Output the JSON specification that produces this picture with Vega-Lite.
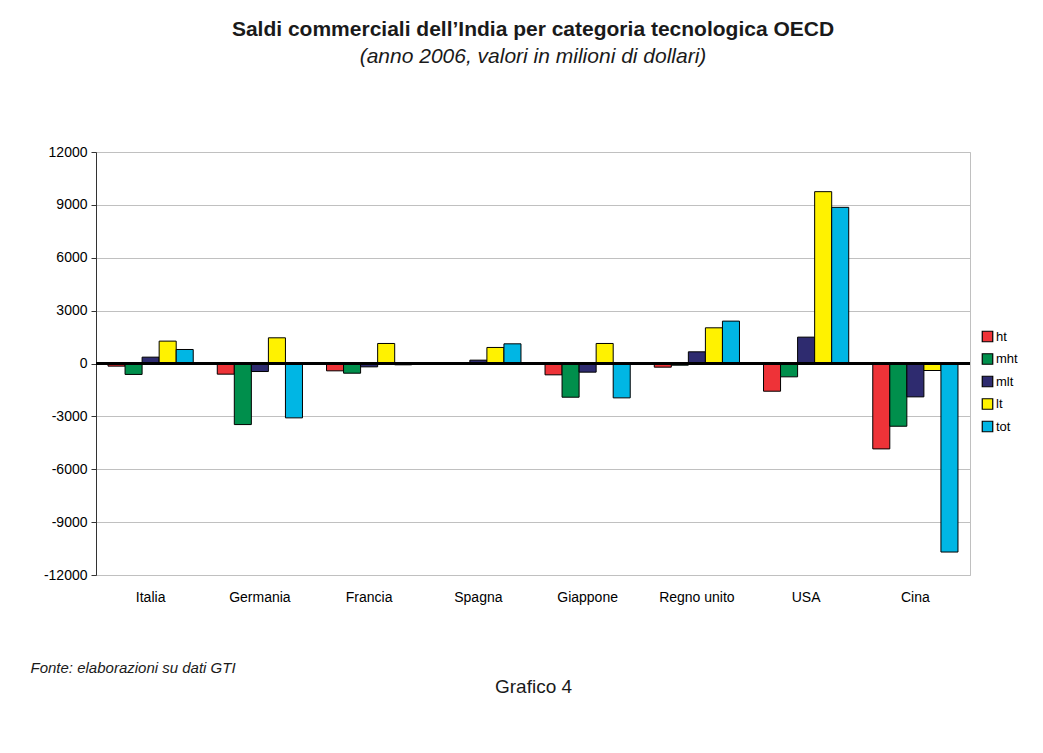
{
  "$schema": "https://vega.github.io/schema/vega-lite/v6.json",
  "width": 874,
  "height": 423,
  "autosize": {"type": "none"},
  "padding": {"left": 96, "top": 152, "right": 73, "bottom": 178},
  "background": "white",
  "title": {
    "text": "Saldi commerciali dell’India per categoria tecnologica OECD",
    "subtitle": "(anno 2006, valori in milioni di dollari)",
    "anchor": "middle",
    "font": "Liberation Sans",
    "fontSize": 21,
    "fontWeight": "bold",
    "color": "#1a1a1a",
    "subtitleFont": "Liberation Sans",
    "subtitleFontSize": 21,
    "subtitleFontStyle": "italic",
    "subtitleColor": "#1a1a1a",
    "subtitlePadding": 6,
    "offset": 78
  },
  "data": {
    "values": [
      {"country": "Italia", "cat": "ht", "value": -150},
      {"country": "Italia", "cat": "mht", "value": -620},
      {"country": "Italia", "cat": "mlt", "value": 360},
      {"country": "Italia", "cat": "lt", "value": 1270},
      {"country": "Italia", "cat": "tot", "value": 795},
      {"country": "Germania", "cat": "ht", "value": -605},
      {"country": "Germania", "cat": "mht", "value": -3465},
      {"country": "Germania", "cat": "mlt", "value": -455},
      {"country": "Germania", "cat": "lt", "value": 1458},
      {"country": "Germania", "cat": "tot", "value": -3085},
      {"country": "Francia", "cat": "ht", "value": -416},
      {"country": "Francia", "cat": "mht", "value": -550},
      {"country": "Francia", "cat": "mlt", "value": -190},
      {"country": "Francia", "cat": "lt", "value": 1136},
      {"country": "Francia", "cat": "tot", "value": -75},
      {"country": "Spagna", "cat": "ht", "value": 30},
      {"country": "Spagna", "cat": "mht", "value": 20},
      {"country": "Spagna", "cat": "mlt", "value": 190},
      {"country": "Spagna", "cat": "lt", "value": 910},
      {"country": "Spagna", "cat": "tot", "value": 1117},
      {"country": "Giappone", "cat": "ht", "value": -643},
      {"country": "Giappone", "cat": "mht", "value": -1913},
      {"country": "Giappone", "cat": "mlt", "value": -492},
      {"country": "Giappone", "cat": "lt", "value": 1136},
      {"country": "Giappone", "cat": "tot", "value": -1950},
      {"country": "Regno unito", "cat": "ht", "value": -208},
      {"country": "Regno unito", "cat": "mht", "value": -95},
      {"country": "Regno unito", "cat": "mlt", "value": 663},
      {"country": "Regno unito", "cat": "lt", "value": 2025},
      {"country": "Regno unito", "cat": "tot", "value": 2405},
      {"country": "USA", "cat": "ht", "value": -1572},
      {"country": "USA", "cat": "mht", "value": -757},
      {"country": "USA", "cat": "mlt", "value": 1496},
      {"country": "USA", "cat": "lt", "value": 9750},
      {"country": "USA", "cat": "tot", "value": 8860},
      {"country": "Cina", "cat": "ht", "value": -4845},
      {"country": "Cina", "cat": "mht", "value": -3560},
      {"country": "Cina", "cat": "mlt", "value": -1893},
      {"country": "Cina", "cat": "lt", "value": -398},
      {"country": "Cina", "cat": "tot", "value": -10697}
    ]
  },
  "layer": [
    {
      "mark": {"type": "bar", "stroke": "#000000", "strokeWidth": 1},
      "encoding": {
        "x": {
          "field": "country",
          "type": "nominal",
          "sort": ["Italia", "Germania", "Francia", "Spagna", "Giappone", "Regno unito", "USA", "Cina"],
          "scale": {"paddingInner": 0.22, "paddingOuter": 0.11},
          "axis": {
            "title": "Grafico 4",
            "titleFont": "Liberation Sans",
            "titleFontSize": 19,
            "titleFontWeight": "normal",
            "titleColor": "#1a1a1a",
            "titleY": 111,
            "titleBaseline": "middle",
            "labelAngle": 0,
            "labelFont": "Liberation Sans",
            "labelFontSize": 14,
            "labelColor": "#000000",
            "labelPadding": 15,
            "ticks": false,
            "domain": false
          }
        },
        "xOffset": {
          "field": "cat",
          "type": "nominal",
          "sort": ["ht", "mht", "mlt", "lt", "tot"],
          "scale": {"paddingInner": 0, "paddingOuter": 0}
        },
        "y": {
          "field": "value",
          "type": "quantitative",
          "scale": {"domain": [-12000, 12000], "nice": false},
          "axis": {
            "values": [-12000, -9000, -6000, -3000, 0, 3000, 6000, 9000, 12000],
            "labelExpr": "'' + datum.value",
            "labelFont": "Liberation Sans",
            "labelFontSize": 14,
            "labelColor": "#000000",
            "labelPadding": 4,
            "tickSize": 5,
            "tickColor": "#333333",
            "domainColor": "#333333",
            "grid": true,
            "gridColor": "#c0c0c0",
            "title": "Fonte: elaborazioni su dati GTI",
            "titleFont": "Liberation Sans",
            "titleFontSize": 15,
            "titleFontStyle": "italic",
            "titleFontWeight": "normal",
            "titleColor": "#1a1a1a",
            "titleAngle": 0,
            "titleAlign": "left",
            "titleBaseline": "middle",
            "titleX": -66,
            "titleY": 515
          }
        },
        "color": {
          "field": "cat",
          "type": "nominal",
          "sort": ["ht", "mht", "mlt", "lt", "tot"],
          "scale": {
            "domain": ["ht", "mht", "mlt", "lt", "tot"],
            "range": ["#ee3338", "#008f4c", "#2e2b6f", "#fff200", "#00b6e4"]
          },
          "legend": {
            "title": null,
            "orient": "none",
            "legendX": 885,
            "legendY": 178,
            "symbolType": "square",
            "symbolSize": 110,
            "symbolStrokeColor": "#000000",
            "symbolStrokeWidth": 1.2,
            "labelFont": "Liberation Sans",
            "labelFontSize": 13,
            "labelColor": "#000000",
            "labelOffset": 2,
            "rowPadding": 5.5
          }
        }
      }
    },
    {
      "mark": {"type": "rule", "color": "#000000", "strokeWidth": 1.5},
      "encoding": {"y": {"datum": 0}}
    }
  ],
  "config": {
    "view": {"stroke": "#c0c0c0", "strokeWidth": 1},
    "legend": {"symbolFillOpacity": 1}
  }
}
